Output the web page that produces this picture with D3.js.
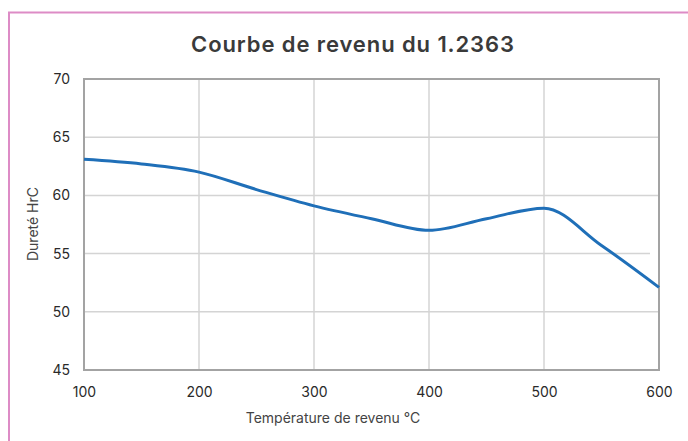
<!DOCTYPE html>
<html>
<head>
<meta charset="utf-8">
<script src="https://cdn.jsdelivr.net/npm/d3@7"></script>
<style>
    body { margin: 0; background: #fff; }
    svg { display: block; font-family: 'Inter', 'Lato', sans-serif; }
</style>
</head>
<body>
<svg></svg>
<script>
let temperatures = [100, 150, 200, 250, 300, 350, 400, 450, 500, 550, 600]
let hardness = [63.1, 62.7, 62, 60.5, 59.1, 58, 57, 58, 58.9, 55.7, 52.1]
let xTicks = [100, 200, 300, 400, 500, 600]
let yTicks = [45, 50, 55, 60, 65, 70]

let width = 688
let height = 441
let plotLeft = 84
let plotRight = 659
let plotTop = 79
let plotBottom = 370

let svg = d3.select('svg')
    .attr('width', width)
    .attr('height', height)

let xScale = d3.scaleLinear().domain([100, 600]).range([plotLeft, plotRight])
let yScale = d3.scaleLinear().domain([45, 70]).range([plotBottom, plotTop])

// pink outer frame (top + left only visible)
svg.append('path')
   .attr('d', `M9,${height} V12.5 H${width}`)
   .attr('fill', 'none')
   .attr('stroke', '#dd8cc6')
   .attr('stroke-width', 2)

svg.append('text')
   .attr('x', 353)
   .attr('y', 52)
   .attr('text-anchor', 'middle')
   .attr('font-size', 22)
   .attr('font-weight', 600)
   .attr('letter-spacing', 0.9)
   .attr('fill', '#3a3a3a')
   .text('Courbe de revenu du 1.2363')

// grid
svg.append('g')
   .selectAll('line')
   .data(xTicks.slice(1, -1))
   .enter()
   .append('line')
   .attr('x1', d => xScale(d))
   .attr('x2', d => xScale(d))
   .attr('y1', plotTop)
   .attr('y2', plotBottom)
   .attr('stroke', '#d4d4d4')
   .attr('stroke-width', 1.5)

svg.append('g')
   .selectAll('line')
   .data(yTicks.slice(1, -1))
   .enter()
   .append('line')
   .attr('x1', plotLeft)
   .attr('x2', d => d === 55 ? 650 : plotRight)
   .attr('y1', d => yScale(d))
   .attr('y2', d => yScale(d))
   .attr('stroke', '#d4d4d4')
   .attr('stroke-width', 1.5)

// axes
let xAxis = d3.axisBottom(xScale).tickValues(xTicks).tickSize(0).tickPadding(17)
let yAxis = d3.axisLeft(yScale).tickValues(yTicks).tickSize(0).tickPadding(14)

svg.append('g')
   .attr('transform', 'translate(0,' + plotBottom + ')')
   .call(xAxis)
   .call(g => g.select('.domain').remove())

svg.append('g')
   .attr('transform', 'translate(' + plotLeft + ',0)')
   .call(yAxis)
   .call(g => g.select('.domain').remove())

svg.selectAll('.tick text')
   .attr('font-family', "'Inter', 'Lato', sans-serif")
   .attr('font-size', 14)
   .attr('fill', '#2a2a2a')

svg.append('rect')
   .attr('x', plotLeft)
   .attr('y', plotTop)
   .attr('width', plotRight - plotLeft)
   .attr('height', plotBottom - plotTop)
   .attr('fill', 'none')
   .attr('stroke', '#a3a3a3')
   .attr('stroke-width', 2)

// curve
let line = d3.line()
    .x((d, i) => xScale(temperatures[i]))
    .y(d => yScale(d))
    .curve(d3.curveMonotoneX)

svg.append('path')
   .datum(hardness)
   .attr('d', line)
   .attr('fill', 'none')
   .attr('stroke', '#1f6fb8')
   .attr('stroke-width', 3)

svg.append('text')
   .attr('x', 333)
   .attr('y', 423)
   .attr('text-anchor', 'middle')
   .attr('font-size', 14)
   .attr('fill', '#444')
   .text('Température de revenu °C')

svg.append('text')
   .attr('transform', 'translate(38,224) rotate(-90)')
   .attr('text-anchor', 'middle')
   .attr('font-size', 14)
   .attr('fill', '#444')
   .text('Dureté HrC')
</script>
</body>
</html>
